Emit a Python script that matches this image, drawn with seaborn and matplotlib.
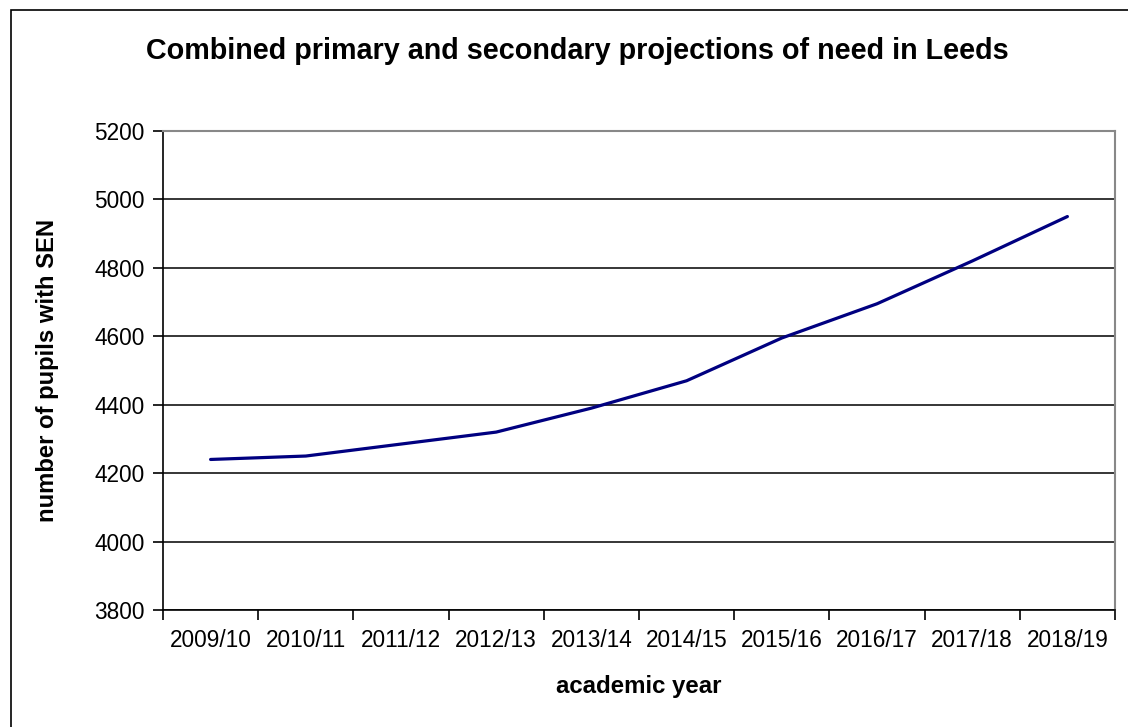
import matplotlib
matplotlib.use("Agg")
import matplotlib.pyplot as plt
from matplotlib.patches import Rectangle
from matplotlib.ticker import FixedLocator
import seaborn as sns
import pandas as pd

years = ["2009/10", "2010/11", "2011/12", "2012/13", "2013/14",
         "2014/15", "2015/16", "2016/17", "2017/18", "2018/19"]
pupils = [4240, 4250, 4285, 4320, 4390, 4470, 4595, 4695, 4820, 4950]
y_ticks = [3800, 4000, 4200, 4400, 4600, 4800, 5000, 5200]

sns.set_theme(style="white")
plt.rcParams["font.family"] = ["Liberation Sans", "DejaVu Sans"]
plt.rcParams["text.color"] = "black"
plt.rcParams["axes.labelcolor"] = "black"
plt.rcParams["xtick.color"] = "black"
plt.rcParams["ytick.color"] = "black"

df = pd.DataFrame({"year": years, "pupils": pupils})

fig = plt.figure(figsize=(11.28, 7.27), dpi=100)
ax = fig.add_axes([163 / 1128, 1 - 610 / 727, (1115 - 163) / 1128, (610 - 131) / 727])

sns.lineplot(data=df, x="year", y="pupils", ax=ax, color="#000080", linewidth=2.3, sort=False)

ax.set_xlim(-0.5, len(years) - 0.5)
ax.set_ylim(y_ticks[0], y_ticks[-1])
ax.set_yticks(y_ticks)
ax.set_yticklabels([str(v) for v in y_ticks], fontsize=16.3)
ax.set_xticks(range(len(years)))
ax.set_xticklabels(years, fontsize=16.3)
ax.xaxis.set_minor_locator(FixedLocator([i - 0.5 for i in range(len(years) + 1)]))
ax.tick_params(axis="x", which="major", length=0, pad=14)
ax.tick_params(axis="x", which="minor", length=7, width=1.2, color="black", bottom=True)
ax.tick_params(axis="y", which="major", length=7, width=1.2, color="black", left=True, pad=6)

ax.grid(axis="y", color="black", linewidth=1.1)
ax.set_axisbelow(True)

for side in ("left", "bottom"):
    ax.spines[side].set_color("black")
    ax.spines[side].set_linewidth(1.2)
for side in ("top", "right"):
    ax.spines[side].set_color("#888888")
    ax.spines[side].set_linewidth(1.5)

ax.set_xlabel("academic year", fontsize=17.3, fontweight="bold")
ax.set_ylabel("number of pupils with SEN", fontsize=17.2, fontweight="bold")
ax.xaxis.set_label_coords(0.5, -(687 - 610) / (610 - 131), transform=ax.transAxes)
ax.xaxis.label.set_va("center")
ax.yaxis.set_label_coords(-(163 - 48) / (1115 - 163), 0.5, transform=ax.transAxes)
ax.yaxis.label.set_va("center")

fig.text(577 / 1128, 1 - 51 / 727, "Combined primary and secondary projections of need in Leeds",
         ha="center", va="center", fontsize=20.7, fontweight="bold")

# chart frame, running off the right and bottom edges
fig.patches.append(Rectangle((11 / 1128, -0.1), 1.2, 1 - 10 / 727 + 0.1,
                             transform=fig.transFigure, fill=False,
                             edgecolor="black", linewidth=1.2, clip_on=False))

fig.savefig("out.png", dpi=100)
